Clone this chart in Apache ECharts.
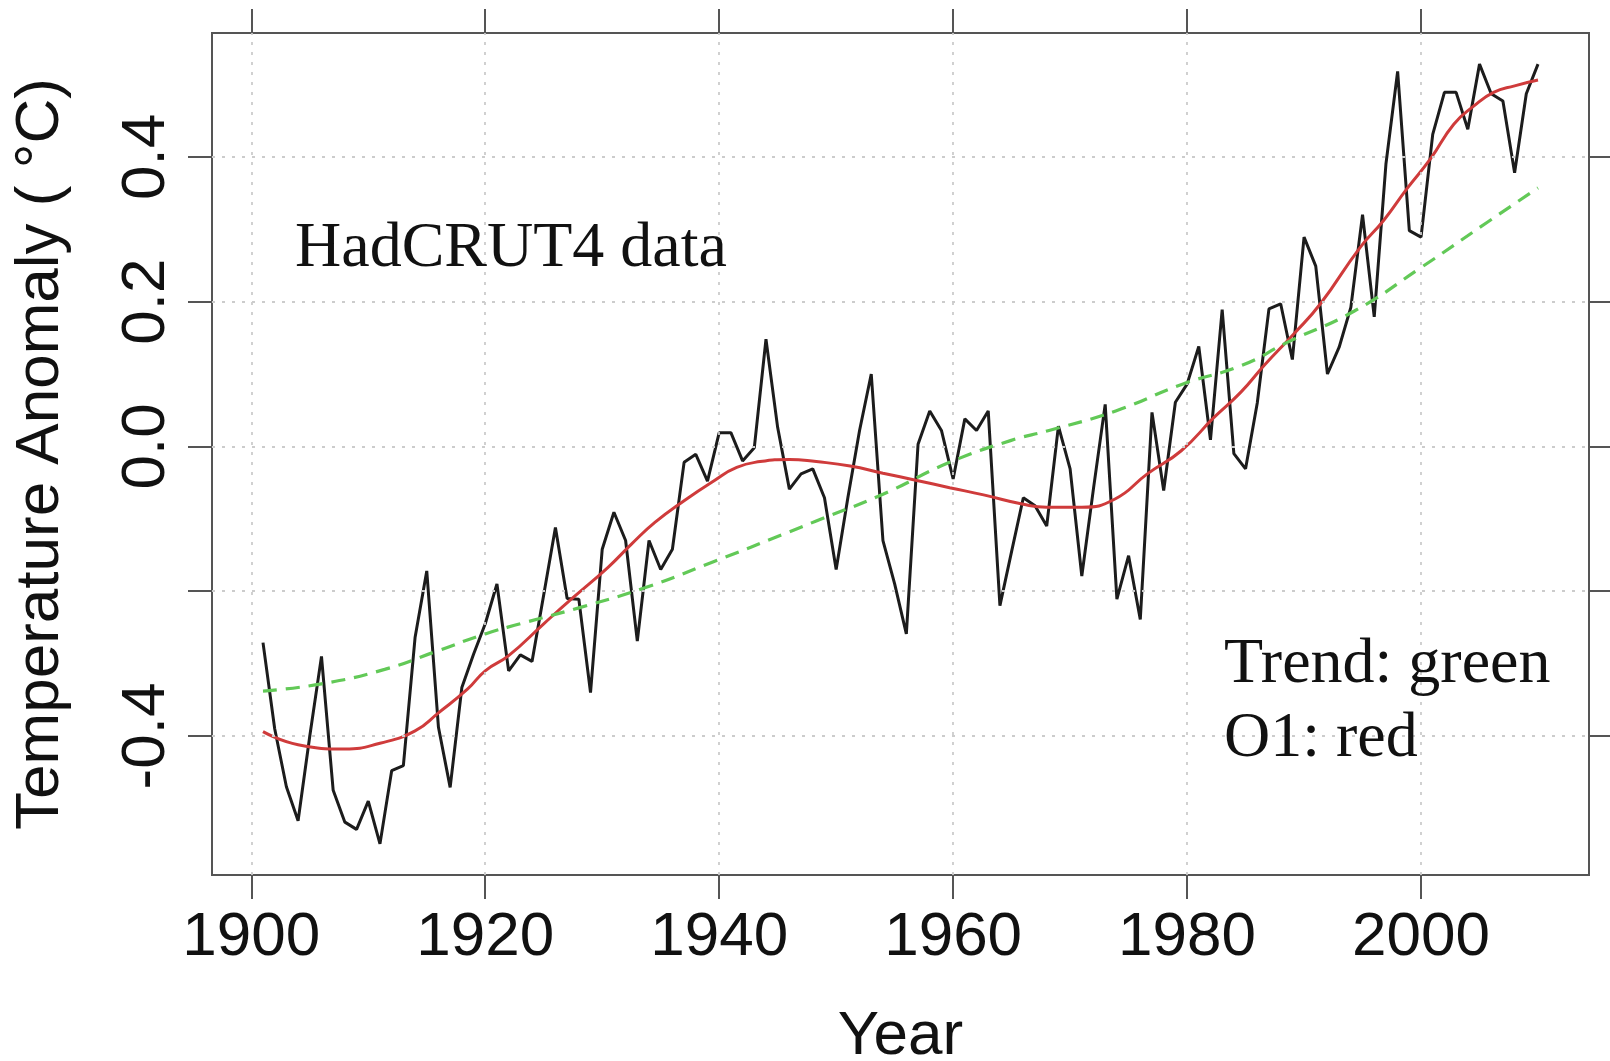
<!DOCTYPE html>
<html>
<head>
<meta charset="utf-8">
<title>HadCRUT4 temperature anomaly</title>
<script src="https://cdn.jsdelivr.net/npm/echarts@6/dist/echarts.min.js"></script>
<style>
  html, body { margin: 0; padding: 0; background: #ffffff; }
  #chart { width: 1610px; height: 1061px; }
</style>
</head>
<body>
<div id="chart"></div>
<script>
// Annual global temperature anomaly (HadCRUT4), 1901-2010
const years = [];
for (let y = 1901; y <= 2010; y++) years.push(y);
const anomaly = [
  -0.271, -0.390, -0.470, -0.517, -0.400, -0.290, -0.475, -0.519, -0.529, -0.490,
  -0.549, -0.448, -0.441, -0.264, -0.172, -0.388, -0.471, -0.333, -0.287, -0.245,
  -0.190, -0.310, -0.288, -0.297, -0.205, -0.112, -0.210, -0.211, -0.340, -0.142,
  -0.091, -0.130, -0.269, -0.130, -0.170, -0.142, -0.022, -0.011, -0.048, 0.019,
  0.019, -0.020, -0.002, 0.148, 0.026, -0.059, -0.038, -0.031, -0.071, -0.170,
  -0.071, 0.022, 0.100, -0.130, -0.190, -0.259, 0.003, 0.049, 0.022, -0.045,
  0.038, 0.022, 0.049, -0.220, -0.145, -0.071, -0.082, -0.110, 0.028, -0.031,
  -0.179, -0.058, 0.058, -0.211, -0.151, -0.239, 0.047, -0.061, 0.061, 0.086,
  0.138, 0.009, 0.189, -0.010, -0.031, 0.060, 0.190, 0.197, 0.120, 0.289,
  0.249, 0.100, 0.137, 0.192, 0.320, 0.179, 0.390, 0.518, 0.298, 0.289,
  0.431, 0.489, 0.489, 0.438, 0.528, 0.487, 0.477, 0.378, 0.487, 0.528
];

// O1 smooth (red)
const o1Years = [1901, 1904, 1908, 1911, 1914, 1916, 1918.5, 1920, 1922, 1925, 1927.5,
  1930.5, 1932.5, 1934.5, 1937, 1939.5, 1941.5, 1943.5, 1946, 1948.3, 1951.2, 1954,
  1956.9, 1959.7, 1962.6, 1966, 1968, 1971, 1973.8, 1976.6, 1979.5, 1982.3, 1984.6,
  1986.6, 1989.1, 1991.4, 1994.8, 1996.8, 1998.8, 2000.8, 2002.8, 2004.5, 2006.2, 2008, 2010];
const o1Values = [-0.394, -0.412, -0.418, -0.410, -0.393, -0.368, -0.335, -0.310, -0.289, -0.245, -0.209,
  -0.167, -0.135, -0.105, -0.075, -0.048, -0.029, -0.021, -0.018, -0.021, -0.027, -0.037,
  -0.047, -0.057, -0.067, -0.080, -0.084, -0.084, -0.073, -0.038, -0.006, 0.040, 0.075,
  0.112, 0.155, 0.197, 0.275, 0.312, 0.356, 0.397, 0.445, 0.470, 0.489, 0.498, 0.506];

// Long-term trend (green, dashed)
const trendYears = [1901, 1906, 1911.4, 1916, 1920, 1923, 1928, 1933.7, 1939.4, 1946, 1948.3,
  1954, 1959.7, 1964.9, 1968.2, 1973.9, 1979.6, 1984.7, 1988.6, 1994.3, 2000, 2005.7, 2010];
const trendValues = [-0.338, -0.328, -0.308, -0.282, -0.259, -0.245, -0.223, -0.195, -0.160, -0.118, -0.103,
  -0.066, -0.022, 0.008, 0.022, 0.049, 0.086, 0.112, 0.144, 0.187, 0.247, 0.310, 0.357];

// Axis ticks and labels
const xTicks = [1900, 1920, 1940, 1960, 1980, 2000];
const yTicks = [-0.4, -0.2, 0.0, 0.2, 0.4];
const yLabelTicks = [-0.4, 0.0, 0.2, 0.4];

const zip = (xs, ys) => xs.map((x, i) => [x, ys[i]]);

const sans = '"Liberation Sans", Arial, Helvetica, sans-serif';
const serif = '"Liberation Serif", "Times New Roman", serif';
const frame = '#555555';

const chart = echarts.init(document.getElementById('chart'), null, { renderer: 'canvas' });

const xRange = { min: 1896.64, max: 2014.36 };
const yRange = { min: -0.592, max: 0.571 };
const hiddenLine = { show: false, onZero: false };
const tickStyle = { color: frame, width: 2 };

chart.setOption({
  backgroundColor: '#ffffff',
  animation: false,
  grid: {
    left: 212, top: 33, width: 1377, height: 842,
    outerBoundsMode: 'none', containLabel: false,
    show: true, borderColor: frame, borderWidth: 2, backgroundColor: 'transparent'
  },
  xAxis: [
    {
      type: 'value', position: 'bottom', ...xRange,
      axisLine: hiddenLine,
      splitLine: { show: false },
      axisTick: { show: true, customValues: xTicks, length: 24, lineStyle: tickStyle },
      axisLabel: {
        customValues: xTicks, margin: 32, fontSize: 62, fontFamily: sans, color: '#111',
        formatter: v => String(Math.round(v))
      },
      name: 'Year', nameLocation: 'middle', nameGap: 131,
      nameTextStyle: { fontSize: 62, fontFamily: sans, color: '#111' }
    },
    {
      type: 'value', position: 'top', ...xRange,
      axisLine: hiddenLine,
      splitLine: { show: false },
      axisTick: { show: true, customValues: xTicks, length: 24, lineStyle: tickStyle },
      axisLabel: { show: false }
    }
  ],
  yAxis: [
    {
      type: 'value', position: 'left', ...yRange,
      axisLine: hiddenLine,
      splitLine: { show: false },
      axisTick: { show: true, customValues: yTicks, length: 24, lineStyle: tickStyle },
      axisLabel: {
        customValues: yLabelTicks, rotate: 90, margin: 34,
        fontSize: 62, fontFamily: sans, color: '#111',
        formatter: v => Number(v).toFixed(1)
      },
      name: 'Temperature Anomaly ( °C)', nameLocation: 'middle', nameGap: 140,
      nameTextStyle: { fontSize: 62, fontFamily: sans, color: '#111' }
    },
    {
      type: 'value', position: 'right', ...yRange,
      axisLine: hiddenLine,
      splitLine: { show: false },
      axisTick: { show: true, customValues: yTicks, length: 24, lineStyle: tickStyle },
      axisLabel: { show: false }
    }
  ],
  series: [
    {
      // dotted reference grid at each tick
      type: 'line', data: [], silent: true, z: 1,
      markLine: {
        silent: true, symbol: ['none', 'none'], animation: false,
        label: { show: false },
        lineStyle: { color: '#cccccc', width: 1.8, type: [3, 7] },
        emphasis: { disabled: true },
        data: xTicks.map(v => ({ xAxis: v })).concat(yTicks.map(v => ({ yAxis: v })))
      }
    },
    {
      name: 'HadCRUT4', type: 'line', z: 3,
      data: zip(years, anomaly),
      showSymbol: false, symbol: 'none',
      lineStyle: { color: '#1c1c1c', width: 3 }
    },
    {
      name: 'O1', type: 'line', z: 4,
      data: zip(o1Years, o1Values),
      smooth: 0.5, showSymbol: false, symbol: 'none',
      lineStyle: { color: '#cf3b3b', width: 3 }
    },
    {
      name: 'Trend', type: 'line', z: 5,
      data: zip(trendYears, trendValues),
      smooth: 0.5, showSymbol: false, symbol: 'none',
      lineStyle: { color: '#62c957', width: 3.2, type: [14, 9] }
    }
  ],
  graphic: [
    {
      type: 'text', x: 295, y: 217, z: 10,
      style: { text: 'HadCRUT4 data', font: '64px ' + serif, fill: '#111', align: 'left', verticalAlign: 'top' }
    },
    {
      type: 'text', x: 1224, y: 633, z: 10,
      style: { text: 'Trend: green', font: '64px ' + serif, fill: '#111', align: 'left', verticalAlign: 'top' }
    },
    {
      type: 'text', x: 1224, y: 707, z: 10,
      style: { text: 'O1: red', font: '64px ' + serif, fill: '#111', align: 'left', verticalAlign: 'top' }
    }
  ]
});
</script>
</body>
</html>
